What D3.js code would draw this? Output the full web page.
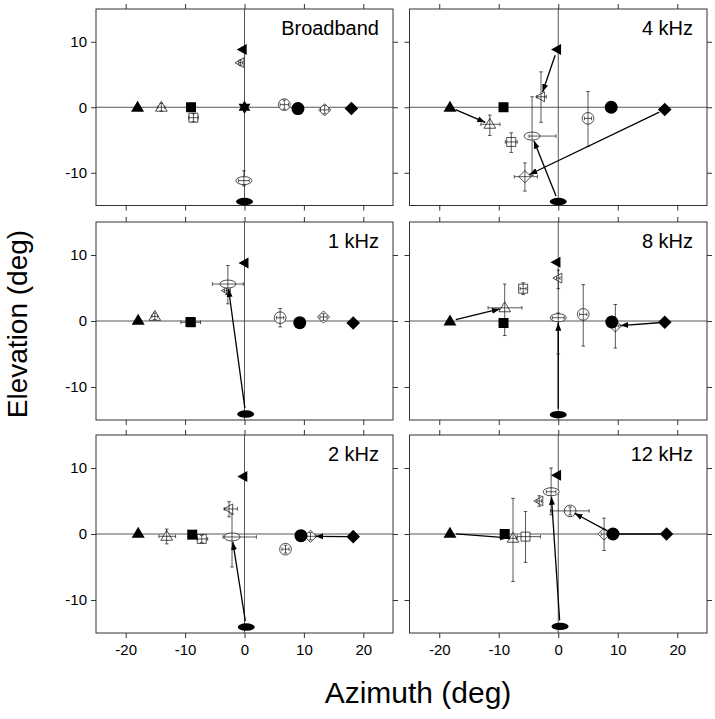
<!DOCTYPE html>
<html><head><meta charset="utf-8">
<script src="https://cdn.jsdelivr.net/npm/d3@7"></script>
<style>
body{margin:0;background:#fff}
svg{display:block;font-family:"Liberation Sans",Arial,Helvetica,sans-serif}
</style>
</head><body>
<svg id="c" width="715" height="719"></svg>
<script>
// ---------- data ----------
const panelLabels = ["Broadband", "4 kHz", "1 kHz", "8 kHz", "2 kHz", "12 kHz"];
const shapes = ["triangle", "square", "circle", "diamond", "leftTriangle", "ellipse"];
const xTicks = [-20, -10, 0, 10, 20];
const yTicks = [-10, 0, 10];

// target positions [az, el] in order of shapes
const targetsBroadband = [[-18, 0], [-9, 0], [9, -0.2], [18, -0.2], [-0.3, 8.8], [0, -14.4]];
const targets4k  = [[-18.2, 0], [-9.2, 0], [8.9, 0], [17.9, -0.35], [-0.2, 8.8], [0, -14.4]];
const targets1k  = [[-17.9, 0.1], [-9.1, -0.15], [9.3, -0.25], [18.3, -0.3], [0, 8.8], [0.2, -14.1]];
const targets8k  = [[-18.2, 0], [-9.2, -0.3], [9.0, -0.15], [17.9, -0.2], [-0.3, 8.9], [0, -14.2]];
const targets2k  = [[-17.9, 0.1], [-8.8, -0.1], [9.5, -0.25], [18.3, -0.4], [-0.2, 8.7], [0.3, -14.1]];
const targets12k = [[-18.2, 0.1], [-9.0, 0], [9.2, 0], [18.2, 0], [-0.2, 8.9], [0.3, -14.0]];

// responses [az, el, azLo, azHi, elLo, elHi] in order of shapes
const responsesBroadband = [
  [-14, 0, -14.6, -13.4, -0.6, 0.6], [-8.6, -1.6, -9.4, -7.8, -2.2, -1.0],
  [6.7, 0.4, 6.0, 7.4, -0.3, 1.1], [13.5, -0.4, 12.8, 14.2, -1.0, 0.3],
  [-0.7, 6.8, -1.0, -0.3, 6.4, 7.2], [-0.1, -11.2, -1.0, 0.8, -12.0, -9.7]];
const responses4k = [
  [-11.5, -2.6, -13.0, -9.8, -4.3, -1.2], [-7.9, -5.3, -8.9, -6.9, -6.9, -3.9],
  [5.0, -1.7, 4.4, 5.6, -6.0, 2.4], [-5.6, -10.6, -7.4, -3.5, -12.8, -8.5],
  [-2.9, 1.6, -3.6, -2.0, -2.3, 5.4], [-4.4, -4.4, -4.9, -0.4, -10.4, 1.6]];
const responses1k = [
  [-15.1, 0.7, -15.6, -14.6, 0.2, 1.2], [-9.0, -0.2, -10.7, -7.4, -0.8, 0.5],
  [6.0, 0.5, 5.4, 6.6, -0.9, 1.9], [13.3, 0.6, 12.7, 13.9, 0.1, 1.1],
  [-3.0, 4.6, -3.4, -2.6, 4.0, 5.2], [-2.8, 5.6, -5.4, -0.2, 2.6, 8.4]];
const responses8k = [
  [-9.0, 2.0, -11.8, -6.1, -2.2, 5.6], [-5.9, 4.9, -6.4, -5.4, 4.0, 5.8],
  [4.2, 1.0, 3.6, 4.8, -3.8, 5.5], [9.6, -0.75, 9.0, 10.2, -4.1, 2.5],
  [0, 6.5, -0.3, 0.3, 4.9, 7.7], [0, 0.5, -1.0, 1.0, -5.0, 1.2]];
const responses2k = [
  [-13.1, -0.35, -14.4, -11.6, -1.5, 0.75], [-7.2, -0.75, -7.9, -6.2, -1.3, -0.2],
  [6.9, -2.3, 6.3, 7.5, -2.9, -1.7], [11.1, -0.35, 10.5, 12.0, -0.9, 0.2],
  [-2.6, 3.8, -3.4, -1.2, 2.6, 4.9], [-2.1, -0.45, -3.6, 2.0, -5.0, 3.0]];
const responses12k = [
  [-7.6, -0.65, -8.2, -7.0, -7.2, 5.4], [-5.5, -0.4, -6.9, -3.0, -4.3, 3.4],
  [2.0, 3.5, -1.3, 5.2, 2.9, 4.1], [7.7, 0, 7.2, 8.2, -2.5, 2.4],
  [-3.2, 5.0, -3.6, -2.8, 4.2, 5.8], [-1.2, 6.4, -2.0, -0.4, 2.9, 10.0]];

// which targets have an arrow to their response (indices into shapes)
const arrowsBroadband = [];
const arrows4k  = [0, 3, 4, 5];
const arrows1k  = [5];
const arrows8k  = [0, 3, 5];
const arrows2k  = [3, 5];
const arrows12k = [0, 2, 3, 5];

// extra filled star target (broadband only) [az, el]
const starTargets = [[[0, 0]], [], [], [], [], []];

// ---------- layout ----------
const targetsAll = [targetsBroadband, targets4k, targets1k, targets8k, targets2k, targets12k];
const responsesAll = [responsesBroadband, responses4k, responses1k, responses8k, responses2k, responses12k];
const arrowsAll = [arrowsBroadband, arrows4k, arrows1k, arrows8k, arrows2k, arrows12k];

const colX = [[96, 393], [409.5, 707]];
const rowY = [[9, 205.5], [222, 420], [435, 633]];
const svg = d3.select("#c");
const frameColor = "#333";

const defs = svg.append("defs");
defs.append("marker").attr("id", "ah").attr("markerUnits", "userSpaceOnUse")
  .attr("markerWidth", 9).attr("markerHeight", 7).attr("refX", 8).attr("refY", 3.5)
  .attr("orient", "auto")
  .append("path").attr("d", "M0,0.5 L8,3.5 L0,6.5 Z").attr("fill", "#000");

function shapePath(shape, big) {
  const p = d3.path();
  const k = big ? 1 : 0.9;
  if (shape === "triangle") {
    const w = 13 * k, h = 11 * k;
    p.moveTo(0, -h * 0.6); p.lineTo(w / 2, h * 0.4); p.lineTo(-w / 2, h * 0.4); p.closePath();
  } else if (shape === "square") {
    const s = 10 * k;
    p.rect(-s / 2, -s / 2, s, s);
  } else if (shape === "circle") {
    const r = 6.5 * k;
    p.moveTo(r, 0); p.arc(0, 0, r, 0, 2 * Math.PI);
  } else if (shape === "diamond") {
    const r = 6.8 * k;
    p.moveTo(0, -r); p.lineTo(r, 0); p.lineTo(0, r); p.lineTo(-r, 0); p.closePath();
  } else if (shape === "leftTriangle") {
    const w = 10 * k, h = 11 * k;
    p.moveTo(-w * 0.6, 0); p.lineTo(w * 0.4, -h / 2); p.lineTo(w * 0.4, h / 2); p.closePath();
  } else if (shape === "star") {
    const r = 6.8;
    for (let t = 0; t < 2; t++) {
      const a0 = t === 0 ? -Math.PI / 2 : Math.PI / 2;
      for (let i = 0; i < 3; i++) {
        const a = a0 + i * 2 * Math.PI / 3;
        if (i === 0) p.moveTo(r * Math.cos(a), r * Math.sin(a));
        else p.lineTo(r * Math.cos(a), r * Math.sin(a));
      }
      p.closePath();
    }
  }
  return p.toString();
}

function drawSymbol(g, shape, cx, cy, filled) {
  if (shape === "ellipse") {
    g.append("ellipse").attr("cx", cx).attr("cy", cy)
      .attr("rx", filled ? 8.5 : 8).attr("ry", filled ? 3.7 : 4)
      .attr("fill", filled ? "#000" : "#fff")
      .attr("stroke", filled ? "none" : "#222").attr("stroke-width", 0.8);
  } else {
    g.append("path").attr("d", shapePath(shape, filled))
      .attr("transform", `translate(${cx},${cy})`)
      .attr("fill", filled ? "#000" : "#fff")
      .attr("stroke", filled ? "none" : "#222").attr("stroke-width", 0.8);
  }
}

panelLabels.forEach((label, i) => {
  const col = i % 2, row = Math.floor(i / 2);
  const x = d3.scaleLinear().domain([-25, 25]).range(colX[col]);
  const y = d3.scaleLinear().domain([-15, 15]).range([rowY[row][1], rowY[row][0]]);
  const g = svg.append("g");

  // axes (ticks outward on all sides)
  const fmt = d => String(d);
  const axB = g.append("g").attr("transform", `translate(0,${y(-15)})`)
    .call(d3.axisBottom(x).tickValues(xTicks).tickSize(5).tickPadding(6)
      .tickFormat(row === 2 ? fmt : () => ""));
  const axT = g.append("g").attr("transform", `translate(0,${y(15)})`)
    .call(d3.axisTop(x).tickValues(xTicks).tickSize(5).tickFormat(() => ""));
  const axL = g.append("g").attr("transform", `translate(${x(-25)},0)`)
    .call(d3.axisLeft(y).tickValues(yTicks).tickSize(5).tickPadding(4)
      .tickFormat(col === 0 ? fmt : () => ""));
  const axR = g.append("g").attr("transform", `translate(${x(25)},0)`)
    .call(d3.axisRight(y).tickValues(yTicks).tickSize(5).tickFormat(() => ""));
  [axB, axT, axL, axR].forEach(a => {
    a.select(".domain").remove();
    a.selectAll("line").attr("stroke", frameColor);
    a.selectAll("text").attr("font-family", "'Liberation Sans', Arial, sans-serif")
      .attr("font-size", 15).attr("fill", "#000");
  });

  // frame
  g.append("rect").attr("x", x(-25)).attr("y", y(15))
    .attr("width", x(25) - x(-25)).attr("height", y(-15) - y(15))
    .attr("fill", "none").attr("stroke", frameColor).attr("stroke-width", 1);

  // zero lines
  g.append("line").attr("x1", x(-25)).attr("x2", x(25)).attr("y1", y(0)).attr("y2", y(0))
    .attr("stroke", "#444").attr("stroke-width", 0.9);
  g.append("line").attr("x1", x(0)).attr("x2", x(0)).attr("y1", y(-15)).attr("y2", y(15))
    .attr("stroke", "#444").attr("stroke-width", 0.9);

  // panel label
  g.append("text").attr("x", x(25) - 14).attr("y", y(15) + 26)
    .attr("text-anchor", "end").attr("font-size", 20).text(label);

  const tg = targetsAll[i], rs = responsesAll[i];

  // responses: open symbols with error bars
  rs.forEach((r, j) => {
    const [ax, el, xl, xh, yl, yh] = r;
    const cx = x(ax), cy = y(el);
    drawSymbol(g, shapes[j], cx, cy, false);
    const eb = g.append("g").attr("stroke", "#111").attr("stroke-width", 0.7);
    eb.append("line").attr("x1", x(xl)).attr("x2", x(xh)).attr("y1", cy).attr("y2", cy);
    eb.append("line").attr("x1", x(xl)).attr("x2", x(xl)).attr("y1", cy - 1.8).attr("y2", cy + 1.8);
    eb.append("line").attr("x1", x(xh)).attr("x2", x(xh)).attr("y1", cy - 1.8).attr("y2", cy + 1.8);
    eb.append("line").attr("x1", cx).attr("x2", cx).attr("y1", y(yl)).attr("y2", y(yh));
    eb.append("line").attr("x1", cx - 1.8).attr("x2", cx + 1.8).attr("y1", y(yl)).attr("y2", y(yl));
    eb.append("line").attr("x1", cx - 1.8).attr("x2", cx + 1.8).attr("y1", y(yh)).attr("y2", y(yh));
  });

  // arrows from targets to responses
  arrowsAll[i].forEach(j => {
    const x1 = x(tg[j][0]), y1 = y(tg[j][1]);
    const x2 = x(rs[j][0]), y2 = y(rs[j][1]);
    const d = Math.hypot(x2 - x1, y2 - y1);
    const s0 = 6 / d, s1 = (d - 5) / d;
    g.append("line")
      .attr("x1", x1 + (x2 - x1) * s0).attr("y1", y1 + (y2 - y1) * s0)
      .attr("x2", x1 + (x2 - x1) * s1).attr("y2", y1 + (y2 - y1) * s1)
      .attr("stroke", "#000").attr("stroke-width", 1.3).attr("marker-end", "url(#ah)");
  });

  // targets: filled symbols
  tg.forEach((t, j) => drawSymbol(g, shapes[j], x(t[0]), y(t[1]), true));
  starTargets[i].forEach(t => {
    g.append("path").attr("d", shapePath("star", true))
      .attr("transform", `translate(${x(t[0])},${y(t[1])})`).attr("fill", "#000");
  });
});

// axis titles
svg.append("text").attr("x", 418).attr("y", 703).attr("text-anchor", "middle")
  .attr("font-size", 30).text("Azimuth (deg)");
svg.append("text").attr("transform", "translate(27,324) rotate(-90)")
  .attr("text-anchor", "middle").attr("font-size", 28).text("Elevation (deg)");
</script>
</body></html>
